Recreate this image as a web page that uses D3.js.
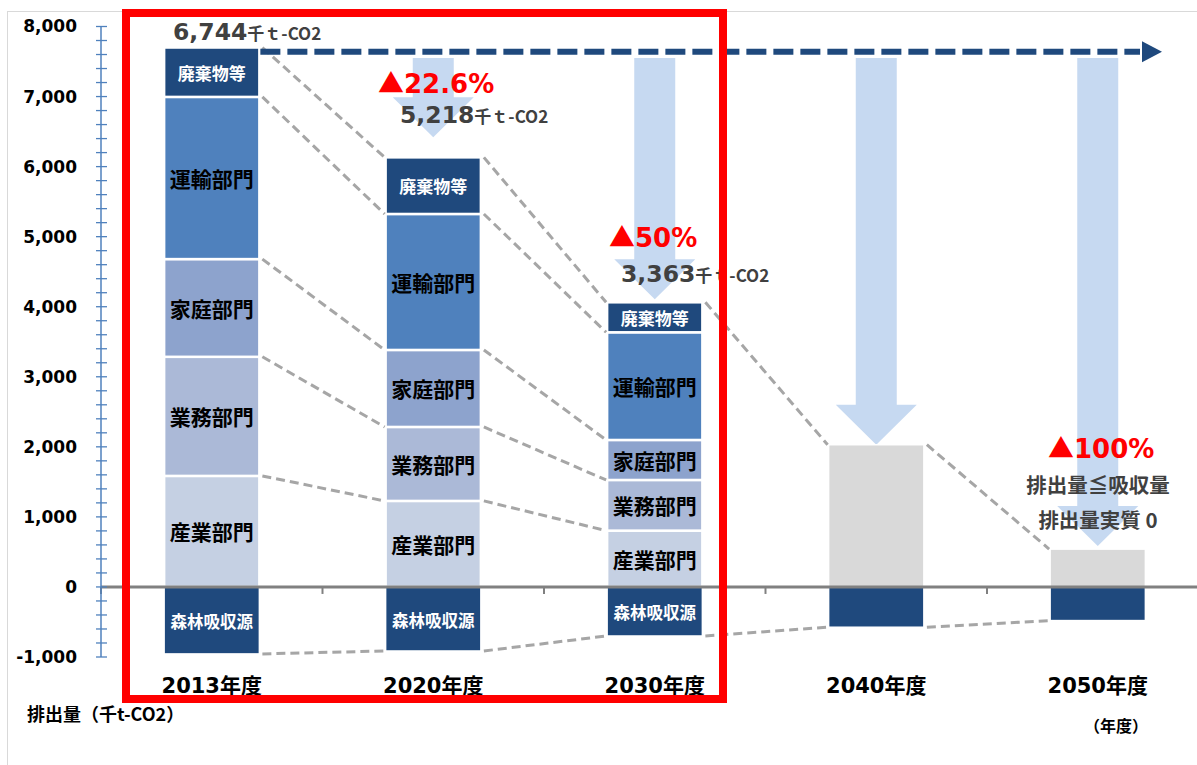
<!DOCTYPE html>
<html><head><meta charset="utf-8">
<script src="https://cdn.jsdelivr.net/npm/d3@7"></script>
<style>body{margin:0;background:#fff}svg{display:block}</style>
</head><body><svg id="c" width="1197" height="765"></svg>
<script>
// ---------------- data ----------------
const categories = ["2013年度", "2020年度", "2030年度", "2040年度", "2050年度"];
const sectors    = ["産業部門", "業務部門", "家庭部門", "運輸部門", "廃棄物等"];
const industry   = [1585, 1228, 804, null, null];
const business   = [1700, 1056, 723, null, null];
const household  = [1395, 1099, 571, null, null];
const transport  = [2315, 1941, 1537, null, null];
const waste      = [705, 808, 428, null, null];
const residual   = [null, null, null, 2030, 540];   // 排出量（将来）
const forest     = [-956, -914, -700, -575, -480];  // 森林吸収源
const netLabels  = ["6,744", "5,218", "3,363", null, null];
const reductions = [null, "▲22.6%", "▲50%", null, "▲100%"];
const yTickValues = [-1000, 0, 1000, 2000, 3000, 4000, 5000, 6000, 7000, 8000];
const yMinorStep = 200;

// ---------------- layout ----------------
const W = 1197, H = 765;
const svg = d3.select("#c");
const FONT = "'DejaVu Sans','Noto Sans CJK JP',sans-serif";
const JFONT = "'Noto Sans CJK JP','DejaVu Sans',sans-serif";

const y = d3.scaleLinear().domain([-1000, 8000]).range([657, 26.5]);
const x = d3.scaleBand().domain(categories).range([101, 1208.5])
  .paddingInner(0.57).paddingOuter(0.285);
const bw = x.bandwidth();
const cx = c => x(c) + bw / 2;

const sectorSeries = [industry, business, household, transport, waste];
const sectorColors = ["#C5D0E3", "#ABB9D7", "#8DA3CD", "#4F81BD", "#1F497D"];
const sectorText   = ["#000", "#000", "#000", "#000", "#fff"];
const navy = "#1F497D";

// outer light frame
svg.append("rect").attr("x", 7.5).attr("y", 11.5).attr("width", W).attr("height", H)
  .attr("fill", "none").attr("stroke", "#D9D9D9").attr("stroke-width", 1);

// gross totals per category
const gross = categories.map((c, i) =>
  residual[i] != null ? residual[i] : d3.sum(sectorSeries, s => s[i]));

// ---------------- light-blue arrows ----------------
const arrowTopVal = 7550;
const arrowGap = [0, 20, 3, 0, 3];
const shaftHalf = 20.5, headHalf = 40.5, headLen = 40;
categories.forEach((c, i) => {
  if (i === 0) return;
  const mx = cx(c), top = y(arrowTopVal), tip = y(gross[i]) - arrowGap[i];
  const hs = tip - headLen;
  const pts = [[mx - shaftHalf, top], [mx + shaftHalf, top], [mx + shaftHalf, hs],
               [mx + headHalf, hs], [mx, tip], [mx - headHalf, hs], [mx - shaftHalf, hs]];
  svg.append("polygon").attr("points", pts.map(p => p.join(",")).join(" "))
    .attr("fill", "#C6D9F1");
});

// ---------------- bars ----------------
const gBars = svg.append("g");
categories.forEach((c, i) => {
  let base = 0;
  sectorSeries.forEach((s, k) => {
    const v = s[i];
    if (v == null) return;
    const y0 = base, y1 = base + v;
    base = y1;
    gBars.append("rect").attr("x", x(c)).attr("y", y(y1))
      .attr("width", bw).attr("height", y(y0) - y(y1))
      .attr("fill", sectorColors[k]).attr("stroke", "#fff").attr("stroke-width", 2.5);
    const small = k === 4;
    gBars.append("text").attr("x", cx(c)).attr("y", (y(y0) + y(y1)) / 2)
      .attr("text-anchor", "middle").attr("dominant-baseline", "central")
      .attr("font-family", JFONT).attr("font-weight", "bold")
      .attr("font-size", small ? 17 : 21).attr("fill", sectorText[k])
      .text(sectors[k]);
  });
  if (residual[i] != null) {
    gBars.append("rect").attr("x", x(c)).attr("y", y(residual[i]))
      .attr("width", bw).attr("height", y(0) - y(residual[i]))
      .attr("fill", "#D9D9D9").attr("stroke", "#fff").attr("stroke-width", 1.5);
  }
  gBars.append("rect").attr("x", x(c)).attr("y", y(0))
    .attr("width", bw).attr("height", y(forest[i]) - y(0))
    .attr("fill", navy).attr("stroke", "#fff").attr("stroke-width", 1.5);
  if (i < 3) {
    gBars.append("text").attr("x", cx(c)).attr("y", (y(0) + y(forest[i])) / 2 + 1)
      .attr("text-anchor", "middle").attr("dominant-baseline", "central")
      .attr("font-family", JFONT).attr("font-weight", "bold")
      .attr("font-size", 16.5).attr("fill", "#fff").text("森林吸収源");
  }
});

// ---------------- connector dashed lines ----------------
const levels = i => {
  if (residual[i] != null) return { tops: [null, null, null, null, residual[i]], f: forest[i] };
  let b = 0; const t = sectorSeries.map(s => (b += s[i]));
  return { tops: t, f: forest[i] };
};
const gConn = svg.append("g").attr("stroke", "#A6A6A6").attr("stroke-width", 3)
  .attr("stroke-dasharray", "9,5").attr("fill", "none");
for (let i = 0; i < categories.length - 1; i++) {
  const a = levels(i), b = levels(i + 1);
  const x1 = x(categories[i]) + bw + 3, x2 = x(categories[i + 1]) - 1;
  for (let k = 0; k < 5; k++) {
    if (a.tops[k] == null || b.tops[k] == null) continue;
    gConn.append("line").attr("x1", x1).attr("y1", y(a.tops[k]))
      .attr("x2", x2).attr("y2", y(b.tops[k]));
  }
  gConn.append("line").attr("x1", x1).attr("y1", y(a.f))
    .attr("x2", x2).attr("y2", y(b.f));
}

// ---------------- navy dashed trend arrow ----------------
const trendY = y(7640);
svg.append("line").attr("x1", x(categories[0]) + bw + 1).attr("x2", 1140)
  .attr("y1", trendY).attr("y2", trendY)
  .attr("stroke", navy).attr("stroke-width", 6).attr("stroke-dasharray", "20,7");
svg.append("polygon")
  .attr("points", [[1142, trendY - 10.5], [1162, trendY], [1142, trendY + 10.5]].map(p => p.join(",")).join(" "))
  .attr("fill", navy);

// ---------------- zero line ----------------
const x0 = x.range()[0];
svg.append("line").attr("x1", x0).attr("x2", W).attr("y1", y(0)).attr("y2", y(0))
  .attr("stroke", "#808080").attr("stroke-width", 3);
d3.range(0, categories.length + 1).forEach(k => {
  const bx = x0 + k * x.step();
  svg.append("line").attr("x1", bx).attr("x2", bx).attr("y1", y(0)).attr("y2", y(0) + 7)
    .attr("stroke", "#808080").attr("stroke-width", 2);
});

// ---------------- y axis ----------------
const minor = d3.range(-1000, 8001, yMinorStep);
const gy = svg.append("g").attr("transform", `translate(${x0},0)`);
gy.append("line").attr("x1", 0).attr("x2", 0).attr("y1", y(8000)).attr("y2", y(-1000))
  .attr("stroke", "#4F81BD").attr("stroke-width", 1.5);
gy.selectAll("line.mt").data(minor).join("line").attr("class", "mt")
  .attr("x1", -5).attr("x2", 6).attr("y1", d => y(d)).attr("y2", d => y(d))
  .attr("stroke", "#4F81BD").attr("stroke-width", 1.3);
const fmt = d3.format(",");
const yAxis = d3.axisLeft(y).tickValues(yTickValues).tickSize(0).tickPadding(24)
  .tickFormat(d => fmt(d).replace("−", "-"));
const gyl = svg.append("g").attr("transform", `translate(${x0},0)`).call(yAxis);
gyl.select(".domain").remove();
gyl.selectAll("text").attr("font-family", FONT).attr("font-weight", "bold")
  .attr("font-size", 17).attr("fill", "#000");

// ---------------- x axis labels ----------------
const xAxis = d3.axisBottom(x).tickSize(0).tickPadding(91);
const gxl = svg.append("g").attr("transform", `translate(0,${y(0)})`).call(xAxis);
gxl.select(".domain").remove();
gxl.selectAll("text").attr("font-family", FONT).attr("font-weight", "bold")
  .attr("font-size", 21).attr("fill", "#000");

// ---------------- annotations ----------------
const netPos = [[173, 40], [400, 123], [621, 282]];
netLabels.forEach((t, i) => {
  if (!t) return;
  const tx = svg.append("text").attr("x", netPos[i][0]).attr("y", netPos[i][1])
    .attr("font-family", FONT).attr("font-weight", "bold").attr("fill", "#404040");
  tx.append("tspan").attr("font-size", 23.5).text(t);
  tx.append("tspan").attr("font-size", 17).attr("font-family", JFONT).attr("font-weight", "bold").text("千ｔ-CO2");
});
const redPos = [null, [378, 93], [609, 247], null, [1048, 458]];
reductions.forEach((t, i) => {
  if (!t) return;
  const tx = svg.append("text").attr("x", redPos[i][0]).attr("y", redPos[i][1])
    .attr("font-family", FONT).attr("font-weight", "bold").attr("fill", "#FF0000")
    .attr("font-size", 26);
  tx.append("tspan").attr("font-family", JFONT).text(t.slice(0, 1));
  tx.append("tspan").text(t.slice(1));
});
svg.append("text").attr("x", 1098).attr("y", 493).attr("text-anchor", "middle")
  .attr("font-family", JFONT).attr("font-weight", "bold").attr("font-size", 20.5)
  .attr("fill", "#404040").text("排出量≦吸収量");
svg.append("text").attr("x", 1098).attr("y", 528).attr("text-anchor", "middle")
  .attr("font-family", JFONT).attr("font-weight", "bold").attr("font-size", 20.5)
  .attr("fill", "#404040").text("排出量実質 0");

svg.append("text").attr("x", 27).attr("y", 721)
  .attr("font-family", JFONT).attr("font-weight", "bold").attr("font-size", 18)
  .attr("fill", "#000").text("排出量（千t-CO2）");
svg.append("text").attr("x", 1148).attr("y", 732).attr("text-anchor", "end")
  .attr("font-family", JFONT).attr("font-weight", "bold").attr("font-size", 16)
  .attr("fill", "#000").text("（年度）");

// ---------------- red highlight box ----------------
svg.append("rect").attr("x", 126).attr("y", 13).attr("width", 597).attr("height", 686)
  .attr("fill", "none").attr("stroke", "#FF0000").attr("stroke-width", 8);
</script></body></html>
